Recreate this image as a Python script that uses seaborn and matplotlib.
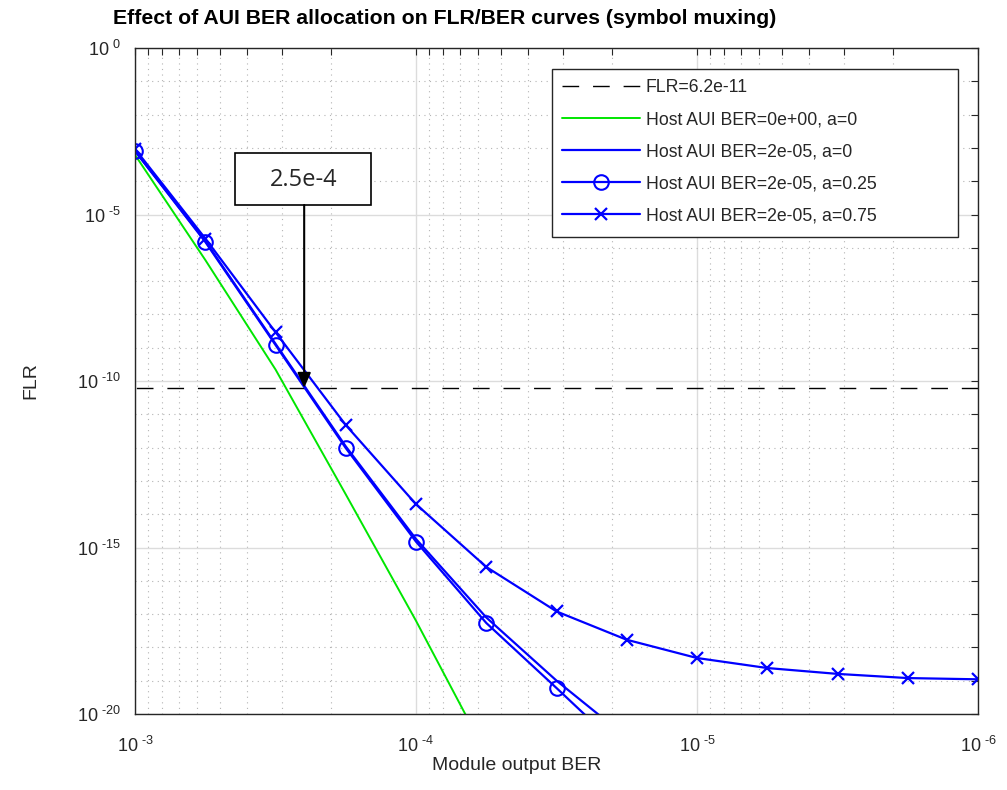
import numpy as np
import pandas as pd
import matplotlib
matplotlib.use("Agg")
import matplotlib.pyplot as plt
import matplotlib.ticker as mticker
from matplotlib.patches import Rectangle
import seaborn as sns

# module output BER points (quarter-decade steps)
ber = [1.0e-3, 5.62e-4, 3.16e-4, 1.78e-4, 1.0e-4, 5.62e-5, 3.16e-5,
       1.78e-5, 1.0e-5, 5.62e-6, 3.16e-6, 1.78e-6, 1.0e-6]

flr_green = [6.2e-4, 4.3e-7, 2.2e-10, 4.0e-14, 6.3e-18, 6.3e-22]
flr_a0 = [8.1e-4, 1.6e-6, 1.3e-9, 1.1e-12, 1.8e-15, 7.9e-18, 1.0e-19, 2.0e-21]
flr_a025 = [8.1e-4, 1.5e-6, 1.2e-9, 9.8e-13, 1.5e-15, 5.4e-18, 6.0e-20, 6.3e-22]
flr_a075 = [9.3e-4, 1.9e-6, 2.9e-9, 4.8e-12, 2.0e-14, 2.6e-16, 1.2e-17,
            1.7e-18, 4.8e-19, 2.4e-19, 1.6e-19, 1.2e-19, 1.1e-19]

flr_target = 6.2e-11
ber_mark = 2.5e-4

labels = ['FLR=6.2e-11', 'Host AUI BER=0e+00, a=0', 'Host AUI BER=2e-05, a=0',
          'Host AUI BER=2e-05, a=0.25', 'Host AUI BER=2e-05, a=0.75']

sns.set_style("white")
plt.rcParams['font.family'] = ['Liberation Sans', 'DejaVu Sans']
plt.rcParams['mathtext.fontset'] = 'custom'
plt.rcParams['mathtext.rm'] = 'Liberation Sans'

W, H = 1007, 790
fig = plt.figure(figsize=(W / 100, H / 100), dpi=100)
ax = fig.add_axes([135 / W, 1 - 714 / H, (978 - 135) / W, (714 - 48) / H])

blue = '#0000ff'
sns.lineplot(x=[1e-3, 1e-6], y=[flr_target, flr_target], ax=ax, color='black',
             linewidth=1.0, linestyle=(0, (12, 10)), label=labels[0])
sns.lineplot(x=ber[:len(flr_green)], y=flr_green, ax=ax, color='#00e600',
             linewidth=1.4, label=labels[1])
sns.lineplot(x=ber[:len(flr_a0)], y=flr_a0, ax=ax, color=blue,
             linewidth=1.6, label=labels[2])
sns.lineplot(x=ber[:len(flr_a025)], y=flr_a025, ax=ax, color=blue,
             linewidth=1.6, marker='o', markersize=10.5, markerfacecolor='none',
             markeredgecolor=blue, markeredgewidth=1.5, label=labels[3])
sns.lineplot(x=ber, y=flr_a075, ax=ax, color=blue, linewidth=1.6,
             marker='x', markersize=9, markeredgecolor=blue,
             markeredgewidth=1.6, label=labels[4])

ax.set_xscale('log')
ax.set_yscale('log')
ax.set_xlim(1e-3, 1e-6)
ax.set_ylim(1e-20, 1e0)

ax.xaxis.set_major_locator(mticker.FixedLocator([1e-3, 1e-4, 1e-5, 1e-6]))
ax.xaxis.set_minor_locator(mticker.LogLocator(base=10, subs=np.arange(2, 10), numticks=20))
ax.yaxis.set_major_locator(mticker.FixedLocator([1e0, 1e-5, 1e-10, 1e-15, 1e-20]))
ax.yaxis.set_minor_locator(mticker.FixedLocator([10.0 ** -k for k in range(21)]))

def sup_fmt(v, pos):
    e = int(round(np.log10(v)))
    s = str(e).replace('-', '\u2010')
    return r'$\mathregular{10^{\ %s}}$' % s

ax.xaxis.set_major_formatter(mticker.FuncFormatter(sup_fmt))
ax.yaxis.set_major_formatter(mticker.FuncFormatter(sup_fmt))
ax.xaxis.set_minor_formatter(mticker.NullFormatter())
ax.yaxis.set_minor_formatter(mticker.NullFormatter())

ax.tick_params(which='both', direction='in', top=True, right=True,
               length=5, width=0.8, color='#262626', labelsize=13, labelcolor='#262626')
ax.tick_params(axis='x', which='major', pad=16)
ax.tick_params(axis='y', which='major', pad=10)

ax.grid(True, which='major', color='#dcdcdc', linewidth=1.0, linestyle='-')
ax.grid(True, which='minor', color='#b4b4b4', linewidth=0.8, linestyle=(0, (1, 4)))
ax.set_axisbelow(True)

for s in ax.spines.values():
    s.set_color('#262626')
    s.set_linewidth(1.0)

ax.set_xlabel('')
ax.set_ylabel('')
fig.text(517 / W, 1 - 766 / H, 'Module output BER', ha='center', va='center',
         fontsize=14, color='#262626')
fig.text(31 / W, 1 - 381 / H, 'FLR', ha='center', va='center', rotation=90,
         fontsize=14, color='#262626')
fig.text(113 / W, 1 - 18 / H, 'Effect of AUI BER allocation on FLR/BER curves (symbol muxing)',
         ha='left', va='center', fontsize=15.3, fontweight='bold', color='black')

# legend: wide MATLAB-style frame drawn separately
ax.add_patch(Rectangle((552 / W, 1 - 237 / H), 406 / W, 168 / H, transform=fig.transFigure,
                       facecolor='white', edgecolor='#262626', linewidth=1.0, zorder=4))
leg = ax.legend(loc='upper left', bbox_to_anchor=((552 - 135) / 843, (714 - 69) / 666),
                fontsize=12.7, frameon=False, handlelength=4.4, handletextpad=0.35,
                labelspacing=0.85, borderpad=0.57, borderaxespad=0)
leg.set_zorder(5)

# annotation box with arrow
ax.add_patch(Rectangle((235 / W, 1 - 205 / H), 136 / W, 52 / H, transform=fig.transFigure,
                       facecolor='white', edgecolor='black', linewidth=1.2, zorder=5))
fig.text(304 / W, 1 - 180 / H, '2.5e-4', ha='center', va='center', fontsize=17,
         family=['Open Sans', 'DejaVu Sans'], zorder=6)
ax.annotate('', xy=(ber_mark, flr_target), xycoords='data',
            xytext=(ber_mark, (714 - 205) / 666), textcoords=('data', 'axes fraction'),
            arrowprops=dict(arrowstyle='-|>,head_length=0.9,head_width=0.4',
                            color='black', linewidth=1.5, shrinkA=0, shrinkB=0),
            zorder=6)

fig.savefig('out.png', dpi=100)
